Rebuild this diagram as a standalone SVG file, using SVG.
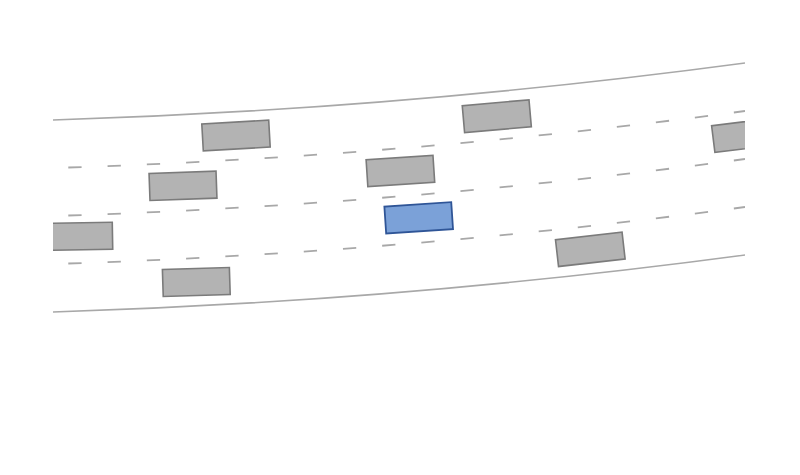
<svg xmlns="http://www.w3.org/2000/svg" xmlns:xlink="http://www.w3.org/1999/xlink" width="800" height="475" viewBox="0 0 800 475">
  <style>
    .edge { fill: none; stroke: #a8a8a8; stroke-width: 1.6; }
    .lane { fill: none; stroke: #a8a8a8; stroke-width: 1.8; stroke-dasharray: 13.3 26; stroke-dashoffset: 24; }
    .car { fill: #b3b3b3; stroke: #7b7b7b; stroke-width: 1.6; }
    .ego { fill: #7ba1d8; stroke: #2f5597; stroke-width: 1.8; }
  </style>
  <defs>
    <path id="curve" d="M53,120 Q399,109.3 745,63"/>
    <clipPath id="clip">
      <rect x="53" y="0" width="692" height="475"/>
    </clipPath>
  </defs>
  <rect x="0" y="0" width="800" height="475" fill="#ffffff"/>
  <g id="road" clip-path="url(#clip)">
    <use xlink:href="#curve" href="#curve" class="edge"/>
    <use xlink:href="#curve" href="#curve" class="edge" transform="translate(0,192)"/>
    <use xlink:href="#curve" href="#curve" class="lane" transform="translate(0,48)"/>
    <use xlink:href="#curve" href="#curve" class="lane" transform="translate(0,96)"/>
    <use xlink:href="#curve" href="#curve" class="lane" transform="translate(0,144)"/>
  </g>
  <g id="cars" clip-path="url(#clip)">
    <g id="car1"><rect class="car" x="-33.5" y="-13.5" width="67" height="27" transform="translate(236,135.5) rotate(-3.2)"/></g>
    <g id="car2"><rect class="car" x="-33.5" y="-13.5" width="67" height="27" transform="translate(183,185.8) rotate(-2)"/></g>
    <g id="car3"><rect class="car" x="-33.5" y="-13.5" width="67" height="27" transform="translate(79,236.3) rotate(-1)"/></g>
    <g id="car4"><rect class="car" x="-33.5" y="-13.5" width="67" height="27" transform="translate(196.3,282) rotate(-1.8)"/></g>
    <g id="car5"><rect class="car" x="-33.5" y="-13.5" width="67" height="27" transform="translate(400.4,171) rotate(-3.7)"/></g>
    <g id="ego"><rect class="ego" x="-33.5" y="-13.5" width="67" height="27" transform="translate(418.7,217.8) rotate(-3.8)"/></g>
    <g id="car7"><rect class="car" x="-33.5" y="-13.5" width="67" height="27" transform="translate(496.8,116.2) rotate(-5)"/></g>
    <g id="car8"><rect class="car" x="-33.5" y="-13.5" width="67" height="27" transform="translate(590.3,249.3) rotate(-6.5)"/></g>
    <g id="car9"><rect class="car" x="-33.5" y="-13.5" width="67" height="27" transform="translate(746.5,135) rotate(-7)"/></g>
  </g>
</svg>
